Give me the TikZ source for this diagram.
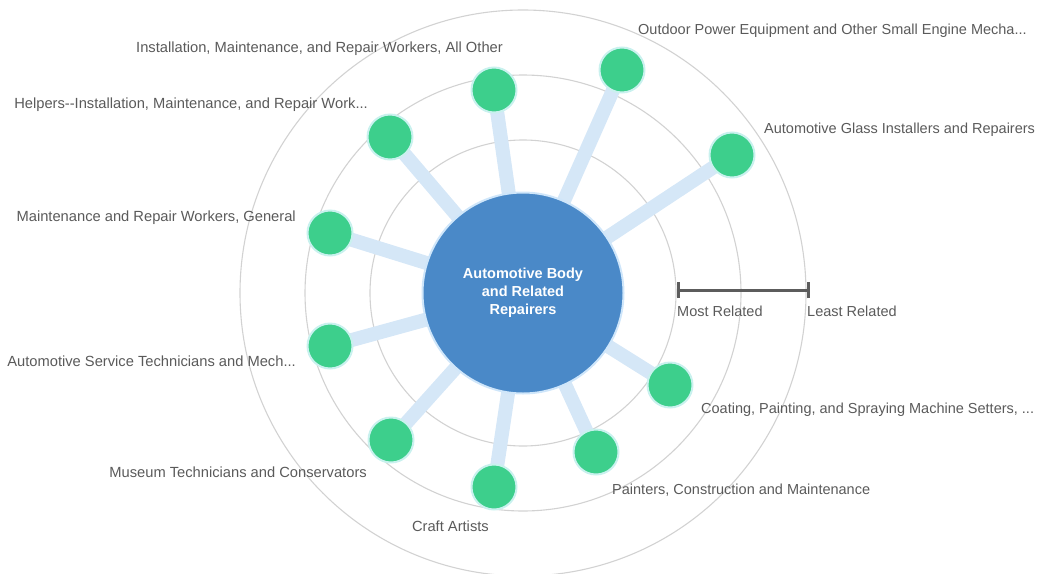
\documentclass[tikz,border=0pt]{standalone}
\usepackage{fontspec}
\setmainfont{Liberation Sans}
\definecolor{ringc}{HTML}{D2D2D2}
\definecolor{spokec}{HTML}{D5E7F7}
\definecolor{greenc}{HTML}{3DCF8C}
\definecolor{haloc}{HTML}{C9F1EE}
\definecolor{bluec}{HTML}{4A89C8}
\definecolor{blueedge}{HTML}{CFE6FA}
\definecolor{labelc}{HTML}{5A5A5A}
\definecolor{barc}{HTML}{5C5C5C}
\pgfdeclarelayer{rings}
\pgfdeclarelayer{spokes}
\pgfsetlayers{rings,spokes,main}
\tikzset{
  ring/.style={draw=ringc, line width=1.1pt},
  spoke/.style={draw=spokec, line width=14pt},
  job/.style={circle, fill=greenc, draw=haloc, line width=2pt, minimum size=45pt, inner sep=0pt},
  hub/.style={circle, fill=bluec, draw=blueedge, line width=2pt, minimum size=201pt, inner sep=0pt,
     text=white, font=\bfseries\fontsize{14.5}{18}\selectfont, align=center},
  lbl/.style={inner sep=0pt, text=labelc, font=\fontsize{14.7}{17}\selectfont},
  rlbl/.style={inner sep=0pt, text=labelc, font=\fontsize{14.5}{17}\selectfont},
  bar/.style={draw=barc, line width=3pt}
}
\begin{document}
\begin{tikzpicture}[x=1pt,y=-1pt]
\useasboundingbox (0,0) rectangle (1038,573);
\clip (0,0) rectangle (1038,573);
\coordinate (o) at (523,293);
\begin{pgfonlayer}{rings}
\draw[ring] (o) circle (153);
\draw[ring] (o) circle (218);
\draw[ring] (o) circle (283);
\end{pgfonlayer}
\node[hub] (hub) at (o) {Automotive Body\\and Related\\Repairers};
\node[job] (n1) at (622,70) {};
\node[job] (n2) at (732,155) {};
\node[job] (n3) at (494,90) {};
\node[job] (n4) at (390,137) {};
\node[job] (n5) at (330,233) {};
\node[job] (n6) at (330,346) {};
\node[job] (n7) at (391,440) {};
\node[job] (n8) at (494,487) {};
\node[job] (n9) at (596,452) {};
\node[job] (n10) at (670,385) {};
\begin{pgfonlayer}{spokes}
\foreach \n in {n1,n2,n3,n4,n5,n6,n7,n8,n9,n10}
  \draw[spoke] (hub.center) -- (\n.center);
\end{pgfonlayer}
\node[rlbl, anchor=west] (l1) at (638,31) {Outdoor Power Equipment and Other Small Engine Mecha...};
\node[rlbl, anchor=west] (l2) at (764,130) {Automotive Glass Installers and Repairers};
\node[lbl, anchor=east] (l3) at (503,49) {Installation, Maintenance, and Repair Workers, All Other};
\node[lbl, anchor=east] (l4) at (368,105) {Helpers-{}-Installation, Maintenance, and Repair Work...};
\node[lbl, anchor=east] (l5) at (296,218) {Maintenance and Repair Workers, General};
\node[lbl, anchor=east] (l6) at (296,361) {Automotive Service Technicians and Mech...};
\node[lbl, anchor=east] (l7) at (367,472) {Museum Technicians and Conservators};
\node[lbl, anchor=east] (l8) at (489,526) {Craft Artists};
\node[rlbl, anchor=west] (l9) at (612,490) {Painters, Construction and Maintenance};
\node[rlbl, anchor=west] (l10) at (701,410) {Coating, Painting, and Spraying Machine Setters, ...};
% scale bar
\coordinate (sa) at (678,290);
\coordinate (sb) at (808,290);
\draw[bar] (sa) -- (sb);
\draw[bar] ([yshift=-8]sa) -- ([yshift=8]sa);
\draw[bar] ([yshift=-8]sb) -- ([yshift=8]sb);
\node[rlbl, anchor=west] (most) at (677,311) {Most Related};
\node[rlbl, anchor=west] (least) at (807,311) {Least Related};
\end{tikzpicture}
\end{document}
